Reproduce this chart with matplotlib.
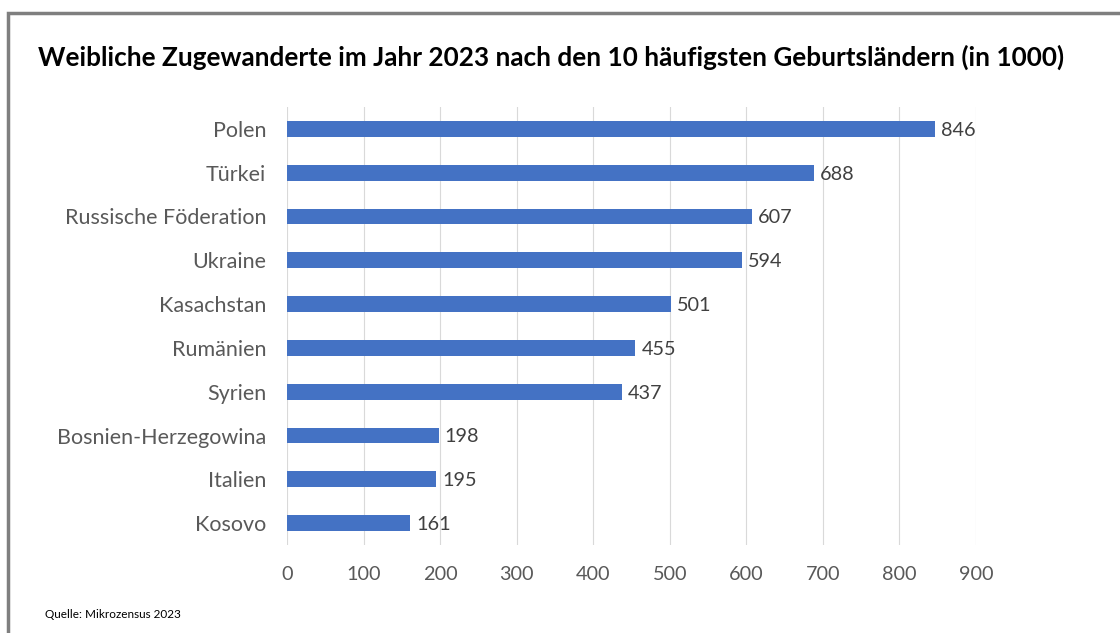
import matplotlib
matplotlib.use("Agg")
import matplotlib.pyplot as plt
from matplotlib.patches import Rectangle

countries = ["Polen", "Türkei", "Russische Föderation", "Ukraine", "Kasachstan",
             "Rumänien", "Syrien", "Bosnien-Herzegowina", "Italien", "Kosovo"]
values = [846, 688, 607, 594, 501, 455, 437, 198, 195, 161]
xticks = [0, 100, 200, 300, 400, 500, 600, 700, 800, 900]

title = "Weibliche Zugewanderte im Jahr 2023 nach den 10 häufigsten Geburtsländern (in 1000)"
source = "Quelle: Mikrozensus 2023"

plt.rcParams['font.family'] = ['Lato', 'DejaVu Sans']

fig = plt.figure(figsize=(11.2, 6.33), dpi=100)
fig.patches.append(Rectangle((8/1120, -0.1), 1.2, 1 - 13/633 + 0.1, transform=fig.transFigure,
                             fill=False, edgecolor="#7f7f7f", linewidth=2.5))

ax = fig.add_axes([287/1120, 1 - 545/633, (976 - 287)/1120, 438/633])
ypos = list(range(len(countries)))[::-1]
bars = ax.barh(ypos, values, height=0.36, color="#4472c4")
for y, v in zip(ypos, values):
    ax.text(v + 8, y - 0.03, str(v), va="center", ha="left", fontsize=14.3, color="#404040")

ax.set_xlim(0, 900)
ax.set_ylim(-0.5, 9.5)
ax.set_xticks(xticks)
ax.set_xticklabels([str(t) for t in xticks])
ax.set_yticks(ypos)
ax.set_yticklabels(countries)
ax.tick_params(axis="x", length=0, labelsize=14.3, labelcolor="#595959", pad=15)
ax.tick_params(axis="y", length=0, labelsize=15.5, labelcolor="#595959", pad=15)
ax.grid(axis="x", color="#d9d9d9", linewidth=0.8)
ax.set_axisbelow(True)
for s in ax.spines.values():
    s.set_visible(False)

fig.text(38/1120, 1 - 57/633, title, fontsize=18.8, fontweight="bold", color="#000000",
         va="center", ha="left")
fig.text(45/1120, 1 - 614/633, source, fontsize=8.5, color="#000000", va="center", ha="left")

fig.savefig("out.png", dpi=100)
